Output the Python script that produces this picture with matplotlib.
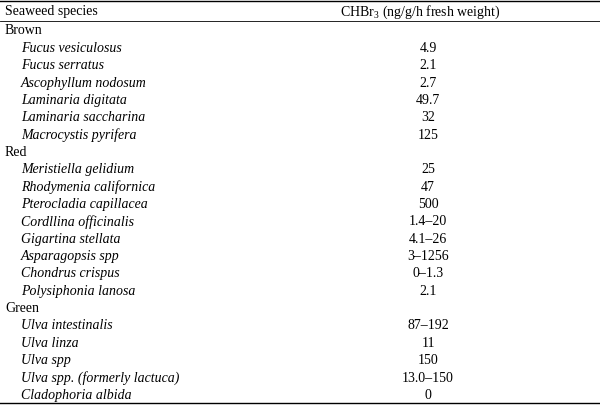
import matplotlib
matplotlib.use("Agg")
import matplotlib.pyplot as plt
from matplotlib.lines import Line2D

plt.rcParams["font.family"] = "Liberation Serif"
plt.rcParams["mathtext.fontset"] = "custom"
plt.rcParams["mathtext.rm"] = "Liberation Serif"

groups = ["Brown", "Red", "Green"]
brown_species = ["Fucus vesiculosus", "Fucus serratus", "Ascophyllum nodosum",
                 "Laminaria digitata", "Laminaria saccharina", "Macrocystis pyrifera"]
brown_values = ["4.9", "2.1", "2.7", "49.7", "32", "125"]
red_species = ["Meristiella gelidium", "Rhodymenia californica", "Pterocladia capillacea",
               "Cordllina officinalis", "Gigartina stellata", "Asparagopsis spp",
               "Chondrus crispus", "Polysiphonia lanosa"]
red_values = ["25", "47", "500", "1.4–20", "4.1–26", "3–1256", "0–1.3", "2.1"]
green_species = ["Ulva intestinalis", "Ulva linza", "Ulva spp",
                 "Ulva spp. (formerly lactuca)", "Cladophoria albida"]
green_values = ["87–192", "11", "150", "13.0–150", "0"]

W, H = 600, 406
fig = plt.figure(figsize=(W/100, H/100), dpi=100)
def fy(y): return 1 - y / H
def fx(x): return x / W

fs = 10
for yy, lw in [(1.5, 1.0), (22, 0.6), (404, 1.0)]:
    fig.add_artist(Line2D([0, 1], [fy(yy), fy(yy)], color="black", lw=lw, transform=fig.transFigure))

fig.text(fx(5), fy(12), "Seaweed species", fontsize=fs, va="center")
fig.text(fx(340), fy(12), r"CHBr$_{3}$ (ng/g/h fresh weight)", fontsize=fs, va="center")

y = 31.0
step = 17.35
for g, sp, vals in zip(groups, [brown_species, red_species, green_species],
                       [brown_values, red_values, green_values]):
    fig.text(fx(5), fy(y), g, fontsize=fs, va="center")
    y += step
    for s, v in zip(sp, vals):
        fig.text(fx(21), fy(y), s, fontsize=fs, va="center", style="italic")
        fig.text(fx(428), fy(y), v, fontsize=fs, va="center", ha="center")
        y += step

fig.savefig("out.png", dpi=100, facecolor="white")
